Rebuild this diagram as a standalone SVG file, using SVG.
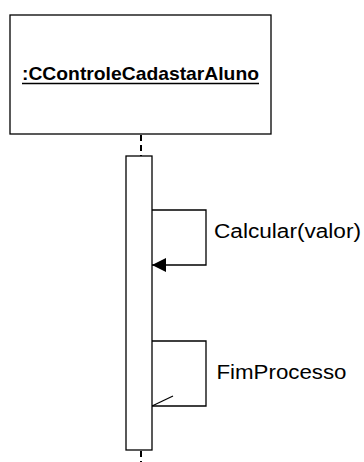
<svg xmlns="http://www.w3.org/2000/svg" width="364" height="462" viewBox="0 0 364 462">
<style>
.box{fill:#fff;stroke:#000;stroke-width:1.3}
.ln{fill:none;stroke:#000;stroke-width:1.3}
.life{fill:none;stroke:#000;stroke-width:2;stroke-dasharray:6,4}
.lbl{font-family:"Liberation Sans",Arial,sans-serif;font-size:20px;fill:#000}
.ttl{font-family:"Liberation Sans",Arial,sans-serif;font-size:19px;font-weight:bold;fill:#000}
</style>
<defs>
<marker id="filled" markerWidth="14" markerHeight="14" refX="14" refY="7" orient="auto" markerUnits="userSpaceOnUse">
<path d="M0,0 L14,7 L0,14 Z" fill="#000"/>
</marker>
</defs>
<g id="connectors">
<line class="life" x1="141" y1="135" x2="141" y2="156"/>
<line class="life" x1="141" y1="451" x2="141" y2="462"/>
<polyline id="msg-calcular" class="ln" points="152,210 206,210 206,265 152,265" marker-end="url(#filled)"/>
<polyline id="msg-fim" class="ln" points="152,341 206,341 206,406 152,406"/>
<line class="ln" x1="152" y1="406" x2="173" y2="396"/>
</g>
<g id="object">
<rect class="box" x="10" y="15" width="261" height="119"/>
<text class="ttl" x="22" y="80" textLength="237" lengthAdjust="spacingAndGlyphs">:CControleCadastarAluno</text>
<line x1="22" y1="83.5" x2="259" y2="83.5" stroke="#000" stroke-width="1.5"/>
</g>
<g id="activation">
<rect class="box" x="126" y="156" width="26" height="294"/>
</g>
<g id="label-calcular">
<text class="lbl" x="214" y="237.5" textLength="147" lengthAdjust="spacingAndGlyphs">Calcular(valor)</text>
</g>
<g id="label-fim">
<text class="lbl" x="216.5" y="378.7" textLength="130" lengthAdjust="spacingAndGlyphs">FimProcesso</text>
</g>
</svg>
